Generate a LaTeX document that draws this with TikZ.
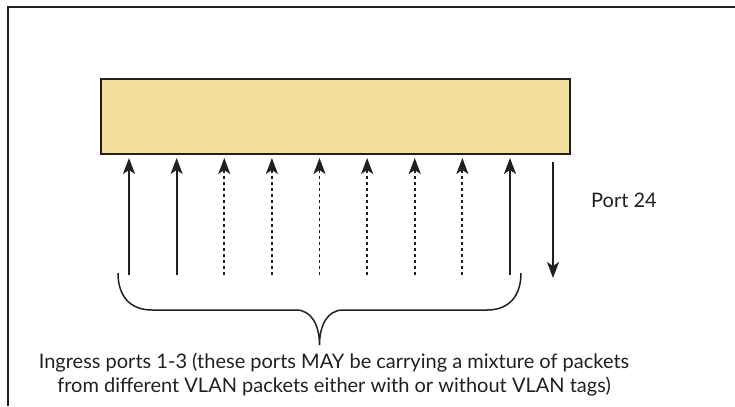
\documentclass[tikz,border=0pt]{standalone}
\usepackage{fontspec}
\setmainfont{Lato}
\usepackage{tikz}
\usetikzlibrary{arrows.meta}
\definecolor{switchfill}{RGB}{243,223,157}
\definecolor{ink}{RGB}{35,31,32}
\tikzstyle{arrow} = [line width=1.9bp,-{Stealth[length=16bp,width=12bp,inset=4bp]}]
\tikzstyle{dashedarrow} = [arrow,dash pattern=on 3.5bp off 2.5bp]
\tikzstyle{brace} = [line width=1.5bp]

\begin{document}
\begin{tikzpicture}[x=1bp,y=1bp,ink,font=\fontsize{20bp}{24bp}\selectfont]
        \useasboundingbox (0,0) rectangle (735,406);
        \draw[line width=1.8bp] (8,0) -- (8,399) -- (735,399);

        \node[draw,fill=switchfill,line width=1.3bp,minimum width=469bp,minimum height=75bp,inner sep=0] (switch) at (335.5,289.5) {};
        \foreach \i in {1,...,9} {
            \coordinate (top\i) at ({129+47.625*(\i-1)},248);
            \coordinate (in\i) at ({129+47.625*(\i-1)},131);
        }
        \draw[arrow] (in1) -- (top1);
        \draw[arrow] (in2) -- (top2);
        \draw[dashedarrow] (in3) -- (top3);
        \draw[dashedarrow] (in4) -- (top4);
        \draw[dashedarrow] (in5) -- (top5);
        \draw[dashedarrow] (in6) -- (top6);
        \draw[dashedarrow] (in7) -- (top7);
        \draw[dashedarrow] (in8) -- (top8);
        \draw[arrow] (in9) -- (top9);

        \coordinate (out24) at (553,244);
        \coordinate (end24) at (553,128);
        \draw[arrow] (out24) -- (end24);
        \node[anchor=base west,inner sep=0] (portlbl) at (591,199) {Port 24};

        \coordinate (bl) at (118,133);
        \coordinate (br) at (521,133);
        \coordinate (tip) at (319.5,61);
        \draw[brace] (bl) .. controls (118,110) and (130,96) .. (152,96) -- (296,96)
            .. controls (312,96) and (319.5,80) .. (tip)
            .. controls (319.5,80) and (327,96) .. (343,96) -- (487,96)
            .. controls (509,96) and (521,110) .. (br);
        \node[align=center,anchor=base,inner sep=0] (caption) at (334,14) {Ingress ports 1-3 (these ports MAY be carrying a mixture of packets\\from different VLAN packets either with or without VLAN tags)};
    \end{tikzpicture}
\end{document}
